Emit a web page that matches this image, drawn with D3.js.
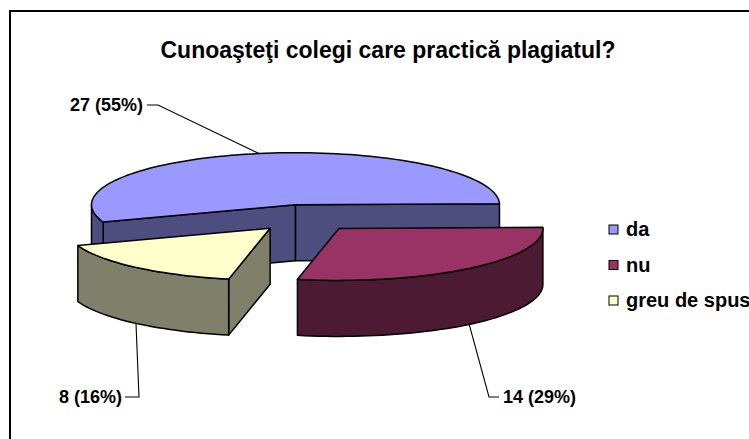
<!DOCTYPE html>
<html>
<head>
<meta charset="utf-8">
<script src="https://cdn.jsdelivr.net/npm/d3@7"></script>
<style>
  html, body { margin: 0; padding: 0; background: #fff; }
  svg { display: block; }
  text { font-family: "Liberation Sans", Arial, sans-serif; font-weight: bold; fill: #000; }
</style>
</head>
<body>
<svg id="chart" width="749" height="439"></svg>
<script>
// ---- data ----
const title = "Cunoaşteţi colegi care practică plagiatul?";
const categories = ["da", "nu", "greu de spus"];
const values = [27, 14, 8];
const topColors = ["#9999FF", "#993366", "#FFFFCC"];
const sideColors = ["#4D4D80", "#4D1A33", "#80806A"];

// ---- layout ----
const W = 749, H = 439;
const svg = d3.select("#chart");
const total = d3.sum(values);
const labels = values.map(v => `${v} (${Math.round(v / total * 100)}%)`);

const cx = 305, cy = 218, rx = 204, ry = 52, depth = 56, explode = 0.26;
const rot = 160.5 * Math.PI / 180;   // screen angle (clockwise from east) where first slice starts

const pie = d3.pie().sort(null).value(d => d);
const arcs = pie(values).map((a, i) => {
  const t0 = a.startAngle + rot, t1 = a.endAngle + rot, tm = (t0 + t1) / 2;
  const c = { x: cx + explode * rx * Math.cos(tm), y: cy + explode * ry * Math.sin(tm) };
  return { i, t0, t1, tm, c };
});

function P(c, t, dz) { return [c.x + rx * Math.cos(t), c.y + ry * Math.sin(t) + (dz || 0)]; }
function arcPts(c, a0, a1, dz) {
  const n = Math.max(2, Math.ceil(Math.abs(a1 - a0) / (Math.PI / 90)));
  return d3.range(n + 1).map(k => P(c, a0 + (a1 - a0) * k / n, dz));
}
const line = d3.line();

// border
svg.append("rect").attr("x", 10).attr("y", 11).attr("width", W + 20).attr("height", H + 20)
  .attr("fill", "none").attr("stroke", "#000").attr("stroke-width", 2);

// title
svg.append("text").attr("x", 388).attr("y", 58).attr("text-anchor", "middle")
  .style("font-size", "23px").text(title);

const g = svg.append("g");
const strokeW = 1.5;
// draw order: back slice first, then left-front, then right-front
const order = [0, 2, 1];
order.forEach(idx => {
  const s = arcs[idx];
  const c = s.c;
  const gs = g.append("g");
  // side (radial) walls
  const walls = [];
  if (Math.cos(s.t0) < 0) walls.push(s.t0);
  if (Math.cos(s.t1) > 0) walls.push(s.t1);
  walls.forEach(t => {
    const pts = [[c.x, c.y], P(c, t), P(c, t, depth), [c.x, c.y + depth]];
    gs.append("path").attr("d", line(pts) + "Z")
      .attr("fill", sideColors[idx]).attr("stroke", "#000").attr("stroke-width", strokeW)
      .attr("stroke-linejoin", "round");
  });
  // outer wall (front-facing part)
  for (let k = -1; k <= 2; k++) {
    const lo = Math.max(s.t0, 2 * Math.PI * k), hi = Math.min(s.t1, 2 * Math.PI * k + Math.PI);
    if (hi > lo) {
      const topE = arcPts(c, lo, hi, 0), botE = arcPts(c, hi, lo, depth);
      gs.append("path").attr("d", line(topE.concat(botE)) + "Z")
        .attr("fill", sideColors[idx]).attr("stroke", "#000").attr("stroke-width", strokeW)
        .attr("stroke-linejoin", "round");
    }
  }
  // top face
  const topPts = [[c.x, c.y]].concat(arcPts(c, s.t0, s.t1, 0));
  gs.append("path").attr("d", line(topPts) + "Z")
    .attr("fill", topColors[idx]).attr("stroke", "#000").attr("stroke-width", strokeW)
    .attr("stroke-linejoin", "round");
});

// data labels with leader lines
const labelLayout = [
  { elbow: [158, 105], end: [147, 105], tx: 143, ty: 111, anchor: "end", dz: 0 },
  { elbow: [489, 397], end: [499, 397], tx: 503, ty: 403, anchor: "start", dz: depth },
  { elbow: [139, 397], end: [125, 397], tx: 122, ty: 403, anchor: "end", dz: depth }
];
arcs.forEach((s, i) => {
  const L = labelLayout[i];
  const a = P(s.c, s.tm, L.dz);
  svg.append("path").attr("d", line([a, L.elbow, L.end]))
    .attr("fill", "none").attr("stroke", "#000").attr("stroke-width", 1.1);
  svg.append("text").attr("x", L.tx).attr("y", L.ty).attr("text-anchor", L.anchor)
    .style("font-size", "18px").text(labels[i]);
});

// legend
const lg = svg.append("g").attr("transform", "translate(609,0)");
const ly = d3.scaleLinear().domain([0, 2]).range([229, 300]);
categories.forEach((cat, i) => {
  lg.append("rect").attr("x", 0).attr("y", ly(i) - 4).attr("width", 9).attr("height", 9)
    .attr("fill", topColors[i]).attr("stroke", "#000").attr("stroke-width", 1);
  lg.append("text").attr("x", 17).attr("y", ly(i) + 7).style("font-size", "20px").text(cat);
});
</script>
</body>
</html>
